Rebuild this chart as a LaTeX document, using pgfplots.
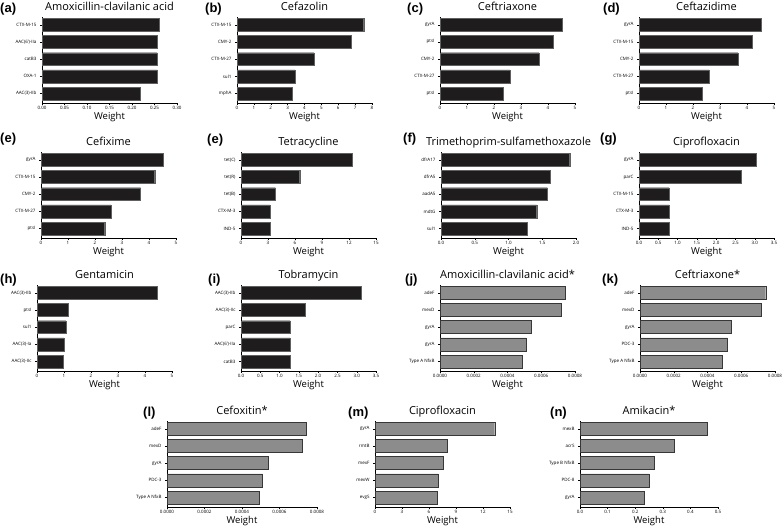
\documentclass[border=0pt]{standalone}
\usepackage{fontspec}
\setmainfont{Open Sans}
\newfontfamily\labfont{Liberation Sans}
\usepackage{pgfplots}
\pgfplotsset{compat=1.18}
\definecolor{barblack}{RGB}{30,28,29}
\definecolor{bargray}{RGB}{140,140,140}
\definecolor{bardark}{RGB}{55,55,55}
\newcommand\ticks{\fontsize{4.5}{5}\selectfont}
\newcommand\lbl{\fontsize{9.5}{10}\selectfont}
\newcommand\ttl{\fontsize{11}{12}\selectfont}
\newcommand\plab{\labfont\bfseries\fontsize{13}{13}\selectfont}
\pgfplotsset{
  every axis title/.style={font=\ttl, at={(0.5,1)}, anchor=base, yshift=6pt},
  every axis x label/.style={font=\lbl, at={(0.5,0)}, anchor=base, yshift=-16.5pt},
  base/.style={xbar, scale only axis, width=135pt, height=86pt, anchor=south west,
    axis lines*=left, axis line style={-, line width=0.7pt},
    xmin=0, ymin=0.45, ymax=5.45, ytick={1,2,3,4,5},
    tick align=outside, major tick length=2pt, tick style={line width=0.4pt, black},
    x tick label style={font=\ticks, yshift=2.5pt},
    y tick label style={font=\ticks},
    scaled x ticks=false,
    bar width=0.75,
    xlabel=Weight,
    clip=false,
  },
  blk/.style={fill=barblack, draw=barblack!70!white, line width=0.3pt},
  gry/.style={fill=bargray, draw=bardark, line width=0.4pt},
}
\begin{document}
\begin{tikzpicture}
\path[use as bounding box] (0,0) rectangle (784pt,529pt);
% panel labels
\node[anchor=base west, font=\plab, inner sep=0] at (0pt,516pt) {(a)};
\node[anchor=base west, font=\plab, inner sep=0] at (205pt,516pt) {(b)};
\node[anchor=base west, font=\plab, inner sep=0] at (407pt,516pt) {(c)};
\node[anchor=base west, font=\plab, inner sep=0] at (603pt,516pt) {(d)};
\node[anchor=base west, font=\plab, inner sep=0] at (0pt,386pt) {(e)};
\node[anchor=base west, font=\plab, inner sep=0] at (207pt,385pt) {(e)};
\node[anchor=base west, font=\plab, inner sep=0] at (403pt,386pt) {(f)};
\node[anchor=base west, font=\plab, inner sep=0] at (600pt,386pt) {(g)};
\node[anchor=base west, font=\plab, inner sep=0] at (0pt,245pt) {(h)};
\node[anchor=base west, font=\plab, inner sep=0] at (208pt,245pt) {(i)};
\node[anchor=base west, font=\plab, inner sep=0] at (405pt,245pt) {(j)};
\node[anchor=base west, font=\plab, inner sep=0] at (602pt,245pt) {(k)};
\node[anchor=base west, font=\plab, inner sep=0] at (143pt,112pt) {(l)};
\node[anchor=base west, font=\plab, inner sep=0] at (348pt,112pt) {(m)};
\node[anchor=base west, font=\plab, inner sep=0] at (550pt,112pt) {(n)};

% (a)
\begin{axis}[base, at={(42pt,426pt)}, title={Amoxicillin-clavilanic acid},
  xmax=0.30, xtick={0,0.05,0.10,0.15,0.20,0.25,0.30},
  xticklabels={0.00,0.05,0.10,0.15,0.20,0.25,0.30},
  yticklabels={AAC(3)-IIb,OXA-1,catB3,AAC(6')-IIa,CTX-M-15}]
\addplot[blk] coordinates {(0.219,1) (0.256,2) (0.256,3) (0.256,4) (0.260,5)};
\end{axis}
% (b)
\begin{axis}[base, at={(237pt,426pt)}, title={Cefazolin},
  xmax=8, xtick={0,1,2,3,4,5,6,7,8},
  xticklabels={0,1,2,3,4,5,6,7,8},
  yticklabels={mphA,sul1,CTX-M-27,CMY-2,CTX-M-15}]
\addplot[blk] coordinates {(3.29,1) (3.43,2) (4.57,3) (6.78,4) (7.51,5)};
\end{axis}
% (c)
\begin{axis}[base, at={(440pt,426pt)}, title={Ceftriaxone},
  xmax=5, xtick={0,1,2,3,4,5},
  xticklabels={0,1,2,3,4,5},
  yticklabels={ptsI,CTX-M-27,CMY-2,ptsI,gyrA}]
\addplot[blk] coordinates {(2.35,1) (2.59,2) (3.66,3) (4.18,4) (4.52,5)};
\end{axis}
% (d)
\begin{axis}[base, at={(639pt,426pt)}, title={Ceftazidime},
  xmax=5, xtick={0,1,2,3,4,5},
  xticklabels={0,1,2,3,4,5},
  yticklabels={ptsI,CTX-M-27,CMY-2,CTX-M-15,gyrA}]
\addplot[blk] coordinates {(2.34,1) (2.60,2) (3.66,3) (4.20,4) (4.54,5)};
\end{axis}
% (e) Cefixime
\begin{axis}[base, at={(41pt,291pt)}, title={Cefixime},
  xmax=5, xtick={0,1,2,3,4,5},
  xticklabels={0,1,2,3,4,5},
  yticklabels={ptsI,CTX-M-27,CMY-2,CTX-M-15,gyrA}]
\addplot[blk] coordinates {(2.36,1) (2.59,2) (3.69,3) (4.21,4) (4.54,5)};
\end{axis}
% (e) Tetracycline
\begin{axis}[base, at={(241pt,291pt)}, title={Tetracycline},
  xmax=15, xtick={0,3,6,9,12,15},
  xticklabels={0,3,6,9,12,15},
  yticklabels={IND-5,CTX-M-3,tet(B),tet(R),tet(C)}]
\addplot[blk] coordinates {(3.22,1) (3.22,2) (3.81,3) (6.52,4) (12.4,5)};
\end{axis}
% (f)
\begin{axis}[base, at={(441pt,291pt)}, title={Trimethoprim-sulfamethoxazole},
  xmax=2, xtick={0,0.5,1,1.5,2},
  xticklabels={0.0,0.5,1.0,1.5,2.0},
  yticklabels={sul1,mdtG,aadA5,dfrA5,dfrA17}]
\addplot[blk] coordinates {(1.275,1) (1.417,2) (1.574,3) (1.618,4) (1.907,5)};
\end{axis}
% (g)
\begin{axis}[base, at={(639pt,291pt)}, title={Ciprofloxacin},
  xmax=3.5, xtick={0,0.5,1,1.5,2,2.5,3,3.5},
  xticklabels={0.0,0.5,1.0,1.5,2.0,2.5,3.0,3.5},
  yticklabels={IND-5,CTX-M-3,CTX-M-15,parC,gyrA}]
\addplot[blk] coordinates {(0.776,1) (0.776,2) (0.78,3) (2.65,4) (3.03,5)};
\end{axis}
% (h)
\begin{axis}[base, at={(37pt,158pt)}, title={Gentamicin},
  xmax=5, xtick={0,1,2,3,4,5},
  xticklabels={0,1,2,3,4,5},
  yticklabels={AAC(3)-IIc,AAC(3)-Ia,sul1,ptsI,AAC(3)-IIb}]
\addplot[blk] coordinates {(0.97,1) (0.995,2) (1.07,3) (1.155,4) (4.45,5)};
\end{axis}
% (i)
\begin{axis}[base, at={(241pt,158pt)}, title={Tobramycin},
  xmax=3.5, xtick={0,0.5,1,1.5,2,2.5,3,3.5},
  xticklabels={0.0,0.5,1.0,1.5,2.0,2.5,3.0,3.5},
  yticklabels={catB3,AAC(6')-IIa,parC,AAC(3)-IIc,AAC(3)-IIb}]
\addplot[blk] coordinates {(1.267,1) (1.267,2) (1.276,3) (1.66,4) (3.12,5)};
\end{axis}
% (j)
\begin{axis}[base, at={(440pt,158pt)}, title={Amoxicillin-clavilanic acid*},
  xmax=0.0008, xtick={0,0.0002,0.0004,0.0006,0.0008},
  xticklabels={0.0000,0.0002,0.0004,0.0006,0.0008},
  yticklabels={Type A NfxB,gyrA,gyrA,mexD,adeF}]
\addplot[gry] coordinates {(0.00049,1) (0.00051,2) (0.00054,3) (0.00072,4) (0.00074,5)};
\end{axis}
% (k)
\begin{axis}[base, at={(640pt,158pt)}, title={Ceftriaxone*},
  xmax=0.0008, xtick={0,0.0002,0.0004,0.0006,0.0008},
  xticklabels={0.0000,0.0002,0.0004,0.0006,0.0008},
  yticklabels={Type A NfxB,PDC-3,gyrA,mexD,adeF}]
\addplot[gry] coordinates {(0.00049,1) (0.000517,2) (0.000543,3) (0.00072,4) (0.000745,5)};
\end{axis}
% (l)
\begin{axis}[base, at={(167pt,22pt)}, width=150pt, title={Cefoxitin*},
  xmax=0.0008, xtick={0,0.0002,0.0004,0.0006,0.0008},
  xticklabels={0.0000,0.0002,0.0004,0.0006,0.0008},
  yticklabels={Type A NfxB,PDC-3,gyrA,mexD,adeF}]
\addplot[gry] coordinates {(0.00049,1) (0.00051,2) (0.00054,3) (0.00072,4) (0.00074,5)};
\end{axis}
% (m)
\begin{axis}[base, at={(375pt,22pt)}, title={Ciprofloxacin},
  xmax=15, xtick={0,3,6,9,12,15},
  xticklabels={0,3,6,9,12,15},
  yticklabels={evgS,mexW,mexF,rmtB,gyrA}]
\addplot[gry] coordinates {(6.9,1) (7.0,2) (7.6,3) (8.0,4) (13.3,5)};
\end{axis}
% (n)
\begin{axis}[base, at={(580pt,22pt)}, width=138pt, title={Amikacin*},
  xmax=0.5, xtick={0,0.1,0.2,0.3,0.4,0.5},
  xticklabels={0.0,0.1,0.2,0.3,0.4,0.5},
  yticklabels={gyrA,PDC-8,Type B NfxB,acrS,mexB}]
\addplot[gry] coordinates {(0.232,1) (0.25,2) (0.268,3) (0.34,4) (0.46,5)};
\end{axis}
\end{tikzpicture}
\end{document}
